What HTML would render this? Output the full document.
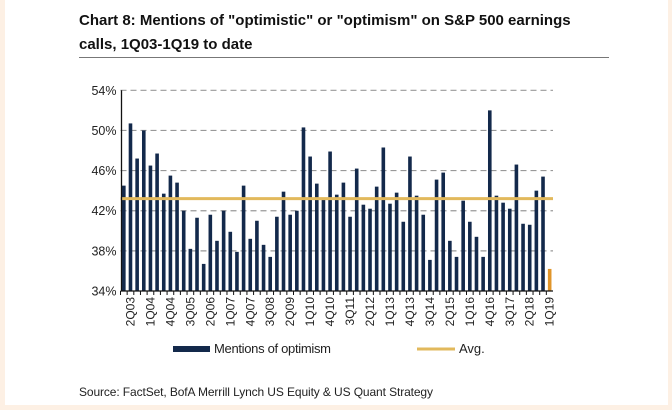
<!DOCTYPE html>
<html><head><meta charset="utf-8"><style>
html,body{margin:0;padding:0;background:#fdf0e4;}
#wrap{position:relative;width:672px;height:410px;overflow:hidden;background:#fdf0e4;}
#panel{position:absolute;left:5px;top:0;width:663px;height:405px;background:#fff;}
svg{position:absolute;left:0;top:0;}
text{font-family:"Liberation Sans",sans-serif;}
</style></head><body>
<div id="wrap">
<div id="panel"></div>
<svg id="chart" width="672" height="410">
<text x="79" y="25" font-size="15" font-weight="bold" fill="#111">Chart 8: Mentions of "optimistic" or "optimism" on S&amp;P 500 earnings</text>
<text x="79" y="49" font-size="15" font-weight="bold" fill="#111">calls, 1Q03-1Q19 to date</text>
<line x1="79" y1="57.5" x2="609" y2="57.5" stroke="#777" stroke-width="1"/>
<g id="grid"></g><g id="bars"></g><g id="axes"></g>
<rect x="173" y="346" width="37" height="6" fill="#13294b"/>
<text x="214" y="353" font-size="13" fill="#222" textLength="117">Mentions of optimism</text>
<line x1="417" y1="349" x2="455" y2="349" stroke="#e2b95c" stroke-width="3"/>
<text x="459" y="353" font-size="13" fill="#222">Avg.</text>
<text x="79" y="396" font-size="12" fill="#222" textLength="354">Source: FactSet, BofA Merrill Lynch US Equity &amp; US Quant Strategy</text>
</svg>
</div>
<script>
const categories=["1Q03","2Q03","3Q03","4Q03"];
(function(){for(let y=4;y<=18;y++){for(let q=1;q<=4;q++)categories.push(q+"Q"+String(y).padStart(2,"0"));}categories.push("1Q19");})();
const mentions=[44.5,50.7,47.2,50.0,46.5,47.7,43.7,45.5,44.8,42.0,38.2,41.3,36.7,41.6,39.0,42.0,39.9,37.9,44.5,39.2,41.0,38.6,37.4,41.4,43.9,41.6,42.0,50.3,47.4,44.7,43.3,47.9,43.6,44.8,41.4,46.2,42.6,42.2,44.4,48.3,42.7,43.8,40.9,47.4,43.5,41.6,37.1,45.1,45.8,39.0,37.4,43.0,40.9,39.4,37.4,52.0,43.5,42.8,42.2,46.6,40.7,40.6,44.0,45.4,36.2];
const avgValue=[43.2];
const yTicks=[34,38,42,46,50,54];
const yTickLabels=["34%","38%","42%","46%","50%","54%"];
const NS="http://www.w3.org/2000/svg";
const x0=120.5,x1=553,yTop=90.3,yBot=291;
const band=(x1-x0)/categories.length;
function xs(i){return x0+band*(i+0.5);}
function ys(v){return yBot-(v-34)/(54-34)*(yBot-yTop);}
function mk(tag,attrs,parent){const e=document.createElementNS(NS,tag);for(const k in attrs)e.setAttribute(k,attrs[k]);parent.appendChild(e);return e;}
const grid=document.getElementById('grid'),bars=document.getElementById('bars'),axes=document.getElementById('axes');
yTicks.forEach((t,i)=>{
  if(t>34){const g=mk('line',{x1:x0,x2:x1,y1:ys(t),y2:ys(t),stroke:'#999','stroke-width':1.2,'stroke-dasharray':'6,4'},grid);
  
  }
  const l=mk('text',{x:x0-4,y:ys(t)+4.5,'font-size':12.5,'text-anchor':'end',fill:'#222'},axes);l.textContent=yTickLabels[i];
  
  
});
mentions.forEach((v,i)=>{
  const last=i===mentions.length-1;
  const r=mk('rect',{x:xs(i)-1.8,y:ys(v),width:3.6,height:yBot-ys(v),fill:last?'#e0952a':'#13294b'},bars);
  
  
});
const av=mk('line',{x1:x0,x2:x1,y1:ys(avgValue[0]),y2:ys(avgValue[0]),stroke:'#e2b95c','stroke-width':3},bars);


const ya=mk('line',{x1:x0+1,x2:x0+1,y1:yTop,y2:yBot,stroke:'#111','stroke-width':1.3},axes);


const xa=mk('line',{x1:x0,x2:x1,y1:yBot,y2:yBot,stroke:'#111','stroke-width':1.3},axes);


categories.forEach((c,i)=>{
  const tk=mk('line',{x1:x0+band*i,x2:x0+band*i,y1:yBot,y2:yBot+4,stroke:'#111','stroke-width':1},axes);
  
  
  if(i%3===1){
    const t=mk('text',{x:0,y:0,'font-size':12,fill:'#222','text-anchor':'end',transform:`translate(${xs(i)+4},${yBot+6}) rotate(-90)`},axes);
    t.textContent=c;
    
    
  }
});
</script>
</body></html>
